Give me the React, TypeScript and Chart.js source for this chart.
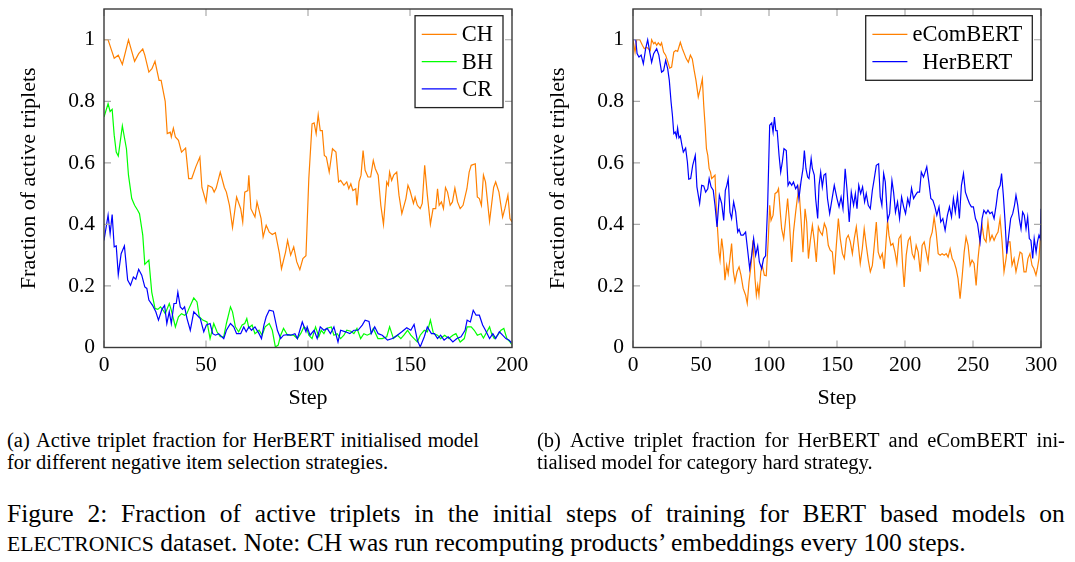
import React, { useEffect, useRef } from "react";
import { Chart, registerables } from "chart.js";

Chart.register(...registerables);

const SERIF = "'Liberation Serif', 'Times New Roman', Times, serif";

// ---------- Panel (a): HerBERT, negative item selection strategies ----------
const stepsCH = [0, 2, 4, 5, 7, 9, 12, 15, 17, 19, 20, 22, 23.5, 25, 27, 28, 30, 31, 32.5, 33, 34, 35, 36.5, 38, 40, 41.5, 43, 45, 47, 48, 50, 51, 53, 54, 55, 57, 59, 60, 61.5, 63, 65, 67, 68, 69, 70.5, 71, 72, 74, 75, 77, 78, 79.5, 81, 82.5, 84, 86, 87, 89, 90, 91.5, 93, 94.5, 96, 97.5, 99, 100.4, 102, 103, 104, 105, 106, 107, 108, 109, 110.4, 112, 113.7, 115, 116, 117.6, 119, 120, 121, 122, 123.4, 124, 125, 126, 127, 128, 129.4, 130.7, 132, 133, 134.4, 135.7, 137, 138.6, 139.4, 140, 141, 142, 143.5, 144.6, 146, 148, 149, 150, 151.7, 152.5, 153.6, 155, 156, 157.2, 158.5, 160, 161.3, 162.6, 163.5, 164.3, 165.4, 166.4, 167.4, 168.4, 169.7, 170.8, 172, 173.3, 174.6, 176, 177.9, 179, 180, 182, 183, 184, 185, 186, 187, 189, 191, 192, 193.6, 195.4, 196.5, 198, 199, 200];
const valuesCH = [1.0, 1.0, 0.96, 0.94, 0.95, 0.92, 1.0, 0.93, 0.955, 0.97, 0.95, 0.895, 0.906, 0.93, 0.868, 0.868, 0.8, 0.695, 0.7, 0.684, 0.713, 0.684, 0.673, 0.635, 0.648, 0.549, 0.549, 0.587, 0.619, 0.52, 0.473, 0.527, 0.52, 0.505, 0.518, 0.57, 0.52, 0.505, 0.462, 0.39, 0.489, 0.451, 0.408, 0.505, 0.51, 0.56, 0.451, 0.424, 0.473, 0.419, 0.359, 0.397, 0.375, 0.367, 0.373, 0.305, 0.256, 0.31, 0.348, 0.3, 0.327, 0.278, 0.253, 0.289, 0.298, 0.549, 0.727, 0.73, 0.695, 0.756, 0.705, 0.705, 0.624, 0.619, 0.57, 0.646, 0.635, 0.538, 0.543, 0.527, 0.538, 0.516, 0.532, 0.51, 0.516, 0.462, 0.538, 0.56, 0.64, 0.576, 0.554, 0.554, 0.608, 0.581, 0.56, 0.462, 0.4, 0.538, 0.527, 0.57, 0.543, 0.56, 0.57, 0.495, 0.435, 0.484, 0.527, 0.51, 0.468, 0.489, 0.462, 0.451, 0.468, 0.592, 0.495, 0.4, 0.451, 0.451, 0.516, 0.462, 0.473, 0.451, 0.52, 0.505, 0.462, 0.473, 0.518, 0.473, 0.451, 0.462, 0.516, 0.57, 0.592, 0.597, 0.489, 0.484, 0.462, 0.56, 0.538, 0.41, 0.52, 0.538, 0.505, 0.424, 0.451, 0.495, 0.419, 0.408];

const stepsBH = [0, 2, 3, 4, 5, 6, 7, 9, 11, 12, 13.6, 15, 16.5, 17.4, 19, 20, 22, 23.4, 25, 26.4, 27.7, 29, 30, 32, 33, 35, 36.5, 38, 39.5, 40.6, 42, 44, 45.6, 46.7, 48.4, 50.5, 52, 53.8, 55.4, 57, 58.7, 60, 62, 63, 64.4, 66, 67.7, 69, 70, 71, 72.6, 74, 76, 77.5, 79, 81, 82.5, 84, 85.4, 86.6, 88, 90, 91.5, 93, 94.8, 96.4, 98, 99.5, 100.4, 102, 103.7, 105.3, 106.5, 107.8, 109, 111.4, 112.7, 114.3, 116, 117.6, 119, 121, 122.5, 124, 125.8, 127.4, 129, 130.7, 132, 134.3, 136.4, 138.6, 140, 141.9, 143.8, 145.5, 147, 148.8, 150.4, 152, 153.6, 155, 157, 158.5, 160, 161.5, 163.5, 165, 167, 169, 171, 172.5, 174.6, 176.6, 178, 180, 181.5, 183, 184.8, 186, 187.7, 189, 190, 191.3, 193, 194.6, 196, 197.5, 199, 200];
const valuesBH = [0.749, 0.792, 0.767, 0.774, 0.69, 0.635, 0.622, 0.72, 0.646, 0.56, 0.484, 0.462, 0.446, 0.435, 0.365, 0.27, 0.284, 0.18, 0.127, 0.124, 0.132, 0.121, 0.11, 0.143, 0.121, 0.067, 0.1, 0.11, 0.105, 0.11, 0.132, 0.161, 0.148, 0.1, 0.089, 0.083, 0.029, 0.078, 0.051, 0.035, 0.035, 0.078, 0.132, 0.116, 0.067, 0.051, 0.073, 0.078, 0.094, 0.064, 0.073, 0.045, 0.056, 0.04, 0.067, 0.078, 0.056, 0.002, 0.008, 0.04, 0.062, 0.04, 0.04, 0.04, 0.029, 0.045, 0.067, 0.06, 0.04, 0.029, 0.067, 0.035, 0.056, 0.045, 0.062, 0.067, 0.04, 0.045, 0.029, 0.04, 0.056, 0.053, 0.045, 0.062, 0.029, 0.045, 0.04, 0.045, 0.062, 0.029, 0.029, 0.035, 0.067, 0.029, 0.04, 0.029, 0.04, 0.056, 0.04, 0.029, 0.018, 0.04, 0.056, 0.051, 0.089, 0.045, 0.04, 0.029, 0.04, 0.029, 0.04, 0.045, 0.018, 0.029, 0.067, 0.067, 0.056, 0.04, 0.045, 0.031, 0.051, 0.067, 0.045, 0.029, 0.04, 0.056, 0.062, 0.029, 0.018, 0.008];

const stepsCR = [0, 2, 3, 4, 5, 6, 7, 8.4, 10, 11.6, 13, 14.4, 15.6, 17, 18.5, 20, 21, 22, 23.8, 25.4, 26.7, 28.4, 29.7, 30.8, 32, 33, 34.3, 35.4, 36.2, 37.4, 38.5, 39.5, 40.7, 42.3, 44, 45.6, 47.2, 48.9, 50.2, 52, 53.3, 54.6, 56.2, 58.7, 60, 62, 63.6, 65, 67, 68.5, 69.7, 71, 72.3, 74, 76, 77.2, 78.4, 79.5, 81, 83, 85, 86.6, 88, 90, 91.5, 93.6, 94.8, 96, 97.2, 99, 99.6, 101, 103, 104.5, 106, 107.8, 109.4, 111, 112.7, 114.7, 116, 118.4, 120.5, 122.5, 124.5, 126.6, 128, 129.9, 131, 132.7, 134.4, 136.4, 139, 141.4, 143.8, 146, 148.4, 150.4, 152, 153.6, 155, 157, 158.5, 160.5, 162, 163.5, 165, 166.7, 168.7, 171, 173, 175, 177, 178, 179.6, 181, 182.4, 184, 185.6, 187, 189, 190.6, 192, 193.8, 195.4, 197, 198.6, 200];
const valuesCR = [0.348, 0.43, 0.37, 0.432, 0.327, 0.33, 0.237, 0.305, 0.33, 0.219, 0.202, 0.229, 0.222, 0.254, 0.235, 0.197, 0.192, 0.154, 0.137, 0.116, 0.089, 0.124, 0.137, 0.078, 0.116, 0.078, 0.143, 0.143, 0.18, 0.132, 0.124, 0.132, 0.094, 0.056, 0.116, 0.105, 0.094, 0.051, 0.073, 0.078, 0.045, 0.04, 0.045, 0.029, 0.056, 0.078, 0.067, 0.045, 0.045, 0.067, 0.051, 0.067, 0.056, 0.067, 0.045, 0.029, 0.073, 0.1, 0.121, 0.118, 0.056, 0.029, 0.04, 0.042, 0.04, 0.045, 0.029, 0.056, 0.083, 0.051, 0.067, 0.04, 0.056, 0.029, 0.067, 0.056, 0.062, 0.045, 0.067, 0.018, 0.056, 0.051, 0.045, 0.056, 0.056, 0.073, 0.089, 0.085, 0.045, 0.067, 0.045, 0.04, 0.024, 0.029, 0.04, 0.051, 0.064, 0.056, 0.075, 0.024, 0.002, 0.035, 0.067, 0.045, 0.045, 0.029, 0.04, 0.024, 0.035, 0.018, 0.029, 0.035, 0.056, 0.089, 0.083, 0.121, 0.105, 0.105, 0.073, 0.056, 0.029, 0.045, 0.029, 0.051, 0.04, 0.029, 0.024, 0.013];

// ---------- Panel (b): HerBERT vs eComBERT, category hard strategy ----------
const stepsECom = [0, 1.5, 2.7, 5, 6.9, 8.3, 10, 11.3, 12.7, 13.7, 15.2, 16.2, 17.4, 18.6, 20.1, 21, 22.5, 24, 25.5, 27, 28.4, 30, 31.4, 32.8, 34.8, 36.3, 37.7, 39.2, 40.7, 42.2, 43.6, 45, 46.3, 48, 49.5, 51, 52, 53, 54, 55, 56, 57, 57.8, 59, 60.3, 61.3, 62.3, 63.2, 64, 65.2, 66.4, 67.6, 68.9, 70, 71.3, 72.5, 73.8, 75, 76.5, 78, 79.4, 81, 82.8, 84, 85.3, 86.8, 88.2, 89.7, 90.7, 91.7, 92.6, 94, 95, 96.6, 98, 99.5, 100.5, 101.5, 103, 104.4, 106, 107, 108.3, 109.3, 110.8, 112.3, 113.7, 115, 116.7, 118, 119.6, 120.8, 122, 123.5, 125, 126.5, 127.7, 129, 130.4, 131.9, 133.3, 134.8, 136.3, 137.7, 139.2, 140.7, 142.2, 143.6, 145, 146.6, 148, 149.5, 151, 152.4, 154, 155.4, 156.9, 158.3, 159.8, 161.3, 162.7, 164.2, 165.7, 167.1, 168.6, 170, 171.5, 173, 174.5, 176, 177.4, 178.9, 180.3, 181.8, 183.3, 184.7, 186.2, 187.2, 188.2, 189.6, 191.1, 192.6, 194, 195.5, 197, 198.4, 199.4, 200.9, 202.4, 203.8, 205.3, 206.8, 208.2, 209.7, 211.2, 212.6, 214.1, 215.6, 217, 218.5, 220, 221.4, 222.9, 224.4, 225.9, 227.3, 228.8, 230.3, 231.7, 233.2, 234.7, 236.1, 237.6, 239, 240.5, 242, 243.5, 244.9, 246.4, 247.9, 249.3, 250.8, 252.3, 253.7, 255.2, 256.7, 258.1, 259.6, 261, 262.5, 264, 265.5, 267, 268.4, 269.9, 271.4, 272.8, 274.3, 275.8, 277.2, 278.7, 280.2, 281.6, 283.1, 284.6, 286, 287.5, 289, 290.4, 291.9, 293.4, 294.8, 296.3, 297.3, 298.5, 299.5, 300];
const valuesECom = [1.0, 0.96, 1.0, 1.0, 0.982, 0.971, 0.976, 0.971, 0.965, 1.0, 0.987, 0.992, 0.982, 0.99, 0.982, 0.99, 0.96, 0.95, 0.93, 0.908, 0.911, 0.96, 0.965, 0.962, 0.992, 0.971, 0.955, 0.938, 0.927, 0.95, 0.938, 0.9, 0.868, 0.814, 0.841, 0.873, 0.787, 0.722, 0.646, 0.624, 0.581, 0.57, 0.549, 0.554, 0.56, 0.451, 0.375, 0.31, 0.284, 0.354, 0.31, 0.219, 0.267, 0.24, 0.289, 0.338, 0.246, 0.213, 0.246, 0.262, 0.235, 0.192, 0.17, 0.143, 0.213, 0.267, 0.348, 0.224, 0.17, 0.202, 0.17, 0.246, 0.267, 0.235, 0.233, 0.354, 0.462, 0.413, 0.43, 0.5, 0.505, 0.516, 0.44, 0.386, 0.354, 0.419, 0.484, 0.408, 0.278, 0.375, 0.44, 0.484, 0.518, 0.419, 0.31, 0.451, 0.408, 0.289, 0.348, 0.397, 0.348, 0.278, 0.392, 0.375, 0.365, 0.403, 0.386, 0.332, 0.316, 0.31, 0.237, 0.332, 0.419, 0.354, 0.305, 0.289, 0.354, 0.365, 0.343, 0.305, 0.354, 0.392, 0.332, 0.273, 0.321, 0.386, 0.332, 0.284, 0.246, 0.267, 0.332, 0.408, 0.31, 0.289, 0.305, 0.256, 0.354, 0.413, 0.365, 0.332, 0.338, 0.31, 0.273, 0.354, 0.365, 0.256, 0.197, 0.3, 0.348, 0.359, 0.305, 0.289, 0.332, 0.31, 0.246, 0.332, 0.343, 0.31, 0.278, 0.354, 0.375, 0.424, 0.375, 0.305, 0.3, 0.305, 0.3, 0.305, 0.294, 0.321, 0.289, 0.278, 0.256, 0.224, 0.159, 0.229, 0.31, 0.359, 0.332, 0.267, 0.284, 0.273, 0.202, 0.289, 0.354, 0.397, 0.354, 0.343, 0.408, 0.348, 0.365, 0.348, 0.365, 0.375, 0.419, 0.343, 0.246, 0.289, 0.343, 0.343, 0.267, 0.289, 0.246, 0.278, 0.31, 0.305, 0.246, 0.246, 0.289, 0.305, 0.267, 0.256, 0.235, 0.256, 0.289, 0.354, 0.36];

const stepsHer = [0, 1, 2, 3, 4.4, 6, 7.6, 9.3, 10.8, 12.3, 13.7, 15.2, 17.4, 19, 21, 22.5, 24, 25.5, 26.7, 28, 29, 30, 31, 32, 32.8, 33.8, 34.8, 36, 37, 38.7, 40, 41, 42.4, 43.9, 45.8, 47, 49, 50.5, 52, 53.4, 55, 56, 57.4, 59, 60.3, 61.8, 63.5, 65.2, 66.7, 67.9, 69, 70, 71.3, 72.5, 74, 75.5, 77, 78, 79.4, 81, 82.8, 84.3, 85.8, 87.3, 88.7, 90.2, 91.7, 92.9, 94.6, 96, 97.5, 99, 100.5, 102, 103, 104, 105, 106, 107.4, 108.6, 109.8, 111, 112.7, 114, 115.2, 116.7, 118, 119.6, 121, 122, 123.5, 125, 126, 127.2, 128.4, 129.4, 131, 131.9, 133.3, 134.3, 135.8, 136.8, 138, 139.2, 140.4, 141.7, 143, 144.6, 146, 148, 150, 151.5, 153, 154.4, 156, 157.3, 159, 160.5, 162.2, 163.5, 164.7, 166, 167.4, 168.8, 170.3, 171.5, 173, 174.5, 176, 177.4, 178.9, 180.6, 181.8, 183, 184.3, 185.5, 187.2, 188.7, 190.4, 191.6, 193, 194.5, 196, 197.5, 199, 200.4, 202, 203.3, 204.8, 206.3, 207.7, 209.2, 210.7, 212, 213.6, 214.8, 216, 217.5, 219, 220.5, 222, 223.4, 225, 226.3, 227.8, 229.5, 231.2, 232.7, 234.2, 235.6, 237, 238.6, 240, 241.5, 243, 244.4, 246, 247.4, 248.8, 250.3, 251.8, 253.3, 255.2, 256.7, 258, 259.6, 261, 262.5, 264, 265.5, 267, 268.4, 270, 271, 272.3, 273.6, 274.8, 276.3, 277.7, 279.2, 280.5, 281.6, 282.9, 284, 285.3, 286.5, 287.7, 289, 290.2, 291.4, 292.6, 293.9, 295, 296.4, 297.4, 298.5, 299.5, 300];
const valuesHer = [1.0, 1.0, 1.0, 0.955, 0.944, 0.95, 0.922, 0.971, 1.0, 0.96, 0.927, 0.955, 0.971, 0.95, 0.895, 0.9, 0.933, 0.906, 0.868, 0.798, 0.754, 0.695, 0.7, 0.684, 0.713, 0.681, 0.687, 0.657, 0.635, 0.648, 0.603, 0.547, 0.549, 0.592, 0.624, 0.522, 0.468, 0.527, 0.525, 0.505, 0.516, 0.549, 0.522, 0.511, 0.462, 0.392, 0.495, 0.468, 0.413, 0.511, 0.527, 0.549, 0.44, 0.419, 0.473, 0.44, 0.375, 0.384, 0.365, 0.365, 0.375, 0.316, 0.256, 0.3, 0.354, 0.3, 0.33, 0.278, 0.256, 0.289, 0.298, 0.462, 0.722, 0.73, 0.7, 0.749, 0.705, 0.705, 0.624, 0.57, 0.603, 0.646, 0.64, 0.527, 0.538, 0.527, 0.538, 0.516, 0.527, 0.484, 0.538, 0.581, 0.64, 0.581, 0.554, 0.549, 0.614, 0.581, 0.56, 0.484, 0.419, 0.527, 0.57, 0.522, 0.56, 0.565, 0.484, 0.435, 0.473, 0.527, 0.484, 0.457, 0.489, 0.451, 0.581, 0.516, 0.408, 0.505, 0.462, 0.5, 0.451, 0.527, 0.5, 0.522, 0.473, 0.5, 0.462, 0.451, 0.511, 0.549, 0.592, 0.597, 0.489, 0.462, 0.565, 0.538, 0.413, 0.435, 0.543, 0.505, 0.44, 0.473, 0.419, 0.489, 0.457, 0.435, 0.484, 0.462, 0.518, 0.484, 0.495, 0.505, 0.505, 0.57, 0.554, 0.57, 0.587, 0.538, 0.484, 0.478, 0.457, 0.43, 0.457, 0.408, 0.419, 0.381, 0.43, 0.457, 0.424, 0.484, 0.44, 0.495, 0.419, 0.527, 0.565, 0.505, 0.484, 0.468, 0.457, 0.457, 0.419, 0.403, 0.343, 0.419, 0.446, 0.435, 0.446, 0.435, 0.44, 0.419, 0.462, 0.511, 0.527, 0.565, 0.495, 0.408, 0.305, 0.365, 0.419, 0.435, 0.462, 0.495, 0.462, 0.419, 0.386, 0.44, 0.43, 0.386, 0.424, 0.354, 0.348, 0.289, 0.354, 0.31, 0.343, 0.365, 0.354, 0.451];

// ---------- Axes ----------
const xTicksA = [0, 50, 100, 150, 200];
const xTicksB = [0, 50, 100, 150, 200, 250, 300];
const yTicks = [0, 0.2, 0.4, 0.6, 0.8, 1];
const yLabels = ["0", "0.2", "0.4", "0.6", "0.8", "1"];

const ORANGE = "#ff8000";
const GREEN = "#00ff00";
const BLUE = "#0000ff";

function toPoints(xs: number[], ys: number[]) {
  return xs.map((x, i) => ({ x, y: ys[i] }));
}

const pgfFrame = {
  id: "pgfFrame",
  afterDatasetsDraw(chart: any) {
    const { ctx, chartArea: a, scales } = chart;
    const tl = 7;
    ctx.save();
    ctx.strokeStyle = "#ababab";
    ctx.lineWidth = 1.2;
    ctx.beginPath();
    for (const t of scales.x.ticks) {
      const px = scales.x.getPixelForValue(t.value);
      ctx.moveTo(px, a.bottom);
      ctx.lineTo(px, a.bottom - tl);
      ctx.moveTo(px, a.top);
      ctx.lineTo(px, a.top + tl);
    }
    for (const t of scales.y.ticks) {
      const py = scales.y.getPixelForValue(t.value);
      ctx.moveTo(a.left, py);
      ctx.lineTo(a.left + tl, py);
      ctx.moveTo(a.right, py);
      ctx.lineTo(a.right - tl, py);
    }
    ctx.stroke();
    ctx.strokeStyle = "#3a3a3a";
    ctx.lineWidth = 1.4;
    ctx.strokeRect(a.left, a.top, a.right - a.left, a.bottom - a.top);
    ctx.restore();
  },
};

function pgfLegend(rightInset: number, topInset: number) {
  return {
    id: "pgfLegend",
    afterDraw(chart: any) {
      const { ctx, chartArea: a } = chart;
      const ds = chart.data.datasets;
      const fontSize = 22.5;
      ctx.save();
      ctx.font = `${fontSize}px ${SERIF}`;
      let textW = 0;
      for (const d of ds) textW = Math.max(textW, ctx.measureText(d.label).width);
      const padL = 6.7, lineLen = 35, gap = 5, padR = 10, padY = 5, rowH = 27.3;
      const w = padL + lineLen + gap + textW + padR;
      const h = padY * 2 + rowH * ds.length;
      const x0 = a.right - rightInset - w;
      const y0 = a.top + topInset;
      ctx.fillStyle = "#ffffff";
      ctx.fillRect(x0, y0, w, h);
      ctx.strokeStyle = "#222";
      ctx.lineWidth = 1.3;
      ctx.strokeRect(x0, y0, w, h);
      ds.forEach((d: any, i: number) => {
        const cy = y0 + padY + rowH * (i + 0.5);
        ctx.strokeStyle = d.borderColor;
        ctx.lineWidth = 1.3;
        ctx.beginPath();
        ctx.moveTo(x0 + padL, cy);
        ctx.lineTo(x0 + padL + lineLen, cy);
        ctx.stroke();
        ctx.fillStyle = "#000";
        ctx.textAlign = "center";
        ctx.textBaseline = "middle";
        ctx.fillText(d.label, x0 + padL + lineLen + gap + textW / 2, cy + 1);
      });
      ctx.restore();
    },
  };
}

function makeConfig(datasets: any[], xMax: number, xTicks: number[], rightPad: number, legendInset: number): any {
  return {
    type: "line",
    data: { datasets },
    options: {
      animation: false,
      responsive: false,
      events: [],
      layout: { padding: { left: 0, top: 9, right: rightPad, bottom: 2.5 } },
      elements: { point: { radius: 0 }, line: { tension: 0 } },
      plugins: { legend: { display: false }, tooltip: { enabled: false }, title: { display: false } },
      scales: {
        x: {
          type: "linear",
          min: 0,
          max: xMax,
          afterBuildTicks: (s: any) => {
            s.ticks = xTicks.map((v) => ({ value: v }));
          },
          afterFit: (s: any) => {
            s.height = 70;
            s.paddingLeft = 0;
            s.paddingRight = 0;
          },
          grid: { display: false, drawTicks: false },
          border: { display: false },
          ticks: {
            padding: 5,
            autoSkip: false,
            maxRotation: 0,
            color: "#000",
            font: { family: SERIF, size: 21.5 },
            callback: (v: any) => String(v),
          },
          title: {
            display: true,
            text: "Step",
            color: "#000",
            font: { family: SERIF, size: 22 },
            padding: { top: 0, bottom: 6 },
          },
        },
        y: {
          type: "linear",
          min: 0,
          max: 1.1,
          afterBuildTicks: (s: any) => {
            s.ticks = yTicks.map((v) => ({ value: v }));
          },
          afterFit: (s: any) => {
            s.width = 104;
            s.paddingTop = 0;
            s.paddingBottom = 0;
          },
          grid: { display: false, drawTicks: false },
          border: { display: false },
          ticks: {
            padding: 9,
            color: "#000",
            font: { family: SERIF, size: 21.5 },
            callback: (v: any) => {
              const i = yTicks.indexOf(v);
              return i >= 0 ? yLabels[i] : String(v);
            },
          },
          title: {
            display: true,
            text: "Fraction of active triplets",
            color: "#000",
            font: { family: SERIF, size: 22 },
            padding: { top: 16, bottom: 0 },
          },
        },
      },
    },
    plugins: [pgfFrame, pgfLegend(legendInset, 6.7)],
  };
}

function line(label: string, color: string, xs: number[], ys: number[], order: number) {
  return {
    label,
    data: toPoints(xs, ys),
    borderColor: color,
    backgroundColor: color,
    borderWidth: 1.2,
    pointRadius: 0,
    fill: false,
    order,
  };
}

function ChartCanvas({ left, width, height, config }: { left: number; width: number; height: number; config: () => any }) {
  const ref = useRef<HTMLCanvasElement | null>(null);
  useEffect(() => {
    if (!ref.current) return;
    const chart = new Chart(ref.current, config());
    return () => chart.destroy();
  }, []);
  return (
    <canvas
      ref={ref}
      width={width}
      height={height}
      style={{ position: "absolute", left, top: 0, width, height }}
    />
  );
}

function JustLine({ text, width, style }: { text: string; width: number; style: any }) {
  const words = text.split(" ").filter((w) => w.length > 0);
  return (
    <div style={{ display: "flex", justifyContent: "space-between", width, whiteSpace: "nowrap", ...style }}>
      {words.map((w, i) => (
        <span key={i}>{w}</span>
      ))}
    </div>
  );
}

export default function App() {
  const cfgA = () =>
    makeConfig(
      [
        line("CH", ORANGE, stepsCH, valuesCH, 2),
        line("BH", GREEN, stepsBH, valuesBH, 1),
        line("CR", BLUE, stepsCR, valuesCR, 0),
      ],
      200,
      xTicksA,
      18,
      9
    );
  const cfgB = () =>
    makeConfig(
      [
        line("eComBERT", ORANGE, stepsECom, valuesECom, 1),
        line("HerBERT", BLUE, stepsHer, valuesHer, 0),
      ],
      300,
      xTicksB,
      34,
      8.7
    );

  const subFont = { fontFamily: SERIF, fontSize: 20.5, lineHeight: "22.6px", color: "#000" };
  const capFont = { fontFamily: SERIF, fontSize: 25.5, lineHeight: "28.5px", color: "#000" };

  return (
    <div style={{ position: "absolute", left: 0, top: 0, width: 1075, height: 562, background: "#fff", overflow: "hidden" }}>
      <ChartCanvas left={0} width={530} height={420} config={cfgA} />
      <ChartCanvas left={529} width={546} height={420} config={cfgB} />

      <div style={{ position: "absolute", left: 7, top: 428.5, ...subFont }}>
        <JustLine text="(a) Active triplet fraction for HerBERT initialised model" width={472} style={{}} />
        <div>for different negative item selection strategies.</div>
      </div>

      <div style={{ position: "absolute", left: 537, top: 428.5, ...subFont }}>
        <JustLine text="(b) Active triplet fraction for HerBERT and eComBERT ini-" width={528} style={{}} />
        <div>tialised model for category hard strategy.</div>
      </div>

      <div style={{ position: "absolute", left: 7, top: 500, ...capFont }}>
        <JustLine
          text="Figure 2:  Fraction of active triplets in the initial steps of training for BERT based models on"
          width={1058}
          style={{}}
        />
        <div style={{ whiteSpace: "nowrap" }}>
          <span style={{ fontSize: "0.85em" }}>ELECTRONICS</span> dataset. Note: CH was run recomputing products’
          embeddings every 100 steps.
        </div>
      </div>
    </div>
  );
}
